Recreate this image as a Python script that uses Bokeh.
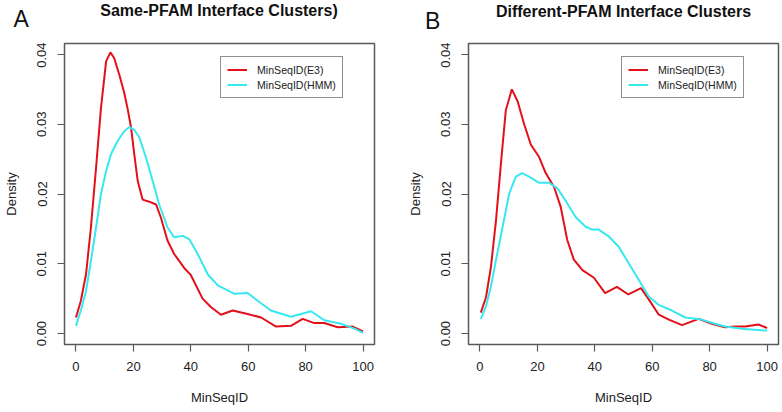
from bokeh.plotting import figure
from bokeh.models import (Range1d, FixedTicker, PrintfTickFormatter, Legend,
                          LegendItem, Label)
from bokeh.layouts import row, column
from bokeh.embed import file_html
from bokeh.resources import INLINE

# ---------------- data ----------------
panel_letters = ["A", "B"]
panel_titles = ["Same-PFAM Interface Clusters)", "Different-PFAM Interface Clusters"]
x_ticks = [0, 20, 40, 60, 80, 100]
y_ticks = [0.00, 0.01, 0.02, 0.03, 0.04]
series_names = ["MinSeqID(E3)", "MinSeqID(HMM)"]

a_e3_x = [0, 1.7, 3.5, 5.2, 7, 8.7, 10.5, 12, 13.3, 15.1, 16.8, 18, 19.2, 20.3,
          21.5, 23.2, 25.5, 27.9, 29.6, 31.9, 34.2, 37.7, 40, 44.1, 47, 50.5,
          54.6, 59.8, 64.5, 69.7, 74.9, 79, 83, 86.5, 91.2, 96.4, 100]
a_e3_y = [0.0023, 0.0047, 0.0085, 0.0152, 0.0238, 0.0323, 0.039, 0.0403, 0.0395,
          0.0371, 0.0345, 0.0322, 0.0295, 0.0257, 0.0219, 0.0192, 0.0189, 0.0185,
          0.0166, 0.0133, 0.0114, 0.0094, 0.0084, 0.005, 0.0038, 0.0027, 0.0033,
          0.0028, 0.0023, 0.001, 0.0011, 0.0021, 0.0015, 0.0015, 0.0009, 0.001,
          0.0003]

a_hmm_x = [0, 1.7, 3.5, 5.2, 7, 8.7, 10.5, 12.2, 14.5, 16.8, 18.6, 20.3, 22.1,
           24.4, 26.7, 29, 31.9, 34.2, 37.2, 39.5, 42.4, 45.9, 49.4, 55.2, 59.8,
           63.3, 67.9, 74.9, 81.9, 86.5, 92.3, 97, 100]
a_hmm_y = [0.0011, 0.0033, 0.0061, 0.0104, 0.0152, 0.02, 0.0233, 0.0257, 0.0276,
           0.029, 0.0296, 0.0292, 0.0281, 0.0252, 0.0219, 0.0185, 0.0152, 0.0138,
           0.014, 0.0135, 0.0114, 0.0085, 0.0069, 0.0057, 0.0058, 0.0047, 0.0033,
           0.0024, 0.0032, 0.0019, 0.0014, 0.0007, 0.0001]

b_e3_x = [0.3, 2.1, 3.8, 5.6, 7.3, 9, 11.1, 13.1, 15.4, 17.7, 20.6, 22.9, 25.8,
          28.1, 30.4, 32.7, 35.7, 39.7, 43.6, 47.7, 51.7, 56.1, 58.8, 62.3, 65.8,
          70.4, 76.2, 80.8, 85.4, 88.9, 92.4, 97, 100]
b_e3_y = [0.003, 0.0052, 0.0095, 0.0163, 0.0244, 0.032, 0.035, 0.0333, 0.03,
          0.0271, 0.0253, 0.023, 0.021, 0.0182, 0.0134, 0.0106, 0.0091, 0.008,
          0.0058, 0.0067, 0.0056, 0.0065, 0.0049, 0.0027, 0.002, 0.0012, 0.0021,
          0.0014, 0.0009, 0.001, 0.001, 0.0013, 0.0008]

b_hmm_x = [0.3, 2.1, 3.8, 5.6, 7.9, 10.2, 12.5, 14.6, 17.1, 20.6, 24.1, 27, 29.9,
           33.3, 36.8, 39.1, 41.4, 44.9, 48.4, 51.9, 55.3, 58.8, 62.3, 66.9, 71.5,
           77.3, 81.9, 85.4, 91.2, 100]
b_hmm_y = [0.0021, 0.0039, 0.0067, 0.0106, 0.0153, 0.0201, 0.0225, 0.023, 0.0225,
           0.0216, 0.0216, 0.0208, 0.019, 0.0167, 0.0153, 0.0149, 0.0149, 0.0139,
           0.0124, 0.01, 0.0077, 0.0053, 0.0041, 0.0033, 0.0023, 0.002, 0.0014,
           0.001, 0.0007, 0.0004]

# ---------------- styling ----------------
FONT = "Liberation Sans"
RED = "#E3101A"
CYAN = "#38E8F0"
BOX = "#5a5a5a"
TXT = "#111111"
HEADER_H = 42

# header strip carrying the panel letters and titles
header = figure(width=782, height=HEADER_H, output_backend="svg",
                toolbar_location=None, x_range=Range1d(0, 782),
                y_range=Range1d(0, HEADER_H), x_axis_type=None, y_axis_type=None,
                min_border=0)
header.outline_line_color = None
header.grid.visible = False
header.background_fill_color = "white"
header.border_fill_color = "white"

# (letter x, letter baseline from header bottom, title centre x, title baseline)
header_spots = [(13, 24, 218.5, 32), (424.5, 22, 623, 31.5)]
for letter, ttl, (lx, ly, tx, ty) in zip(panel_letters, panel_titles, header_spots):
    header.add_layout(Label(x=lx, y=ly, x_units="screen", y_units="screen",
                            text=letter, text_align="left",
                            text_baseline="alphabetic", text_font=FONT,
                            text_font_size="23px", text_color=TXT))
    header.add_layout(Label(x=tx, y=ty, x_units="screen", y_units="screen",
                            text=ttl, text_align="center",
                            text_baseline="alphabetic", text_font=FONT,
                            text_font_size="16px", text_font_style="bold",
                            text_color=TXT))


def panel(e3x, e3y, hx, hy, left, right, top, bottom, legend_xy):
    p = figure(width=391, height=412 - HEADER_H, output_backend="svg",
               toolbar_location=None,
               x_range=Range1d(-4, 104), y_range=Range1d(-0.00157, 0.04157),
               min_border_left=left, min_border_right=right,
               min_border_top=top, min_border_bottom=bottom)
    p.background_fill_color = "white"
    p.border_fill_color = "white"
    p.grid.visible = False
    p.outline_line_color = BOX
    p.outline_line_width = 1.5

    for ax in (p.xaxis[0], p.yaxis[0]):
        ax.axis_line_color = None
        ax.major_tick_line_color = BOX
        ax.major_tick_line_width = 1.2
        ax.major_tick_out = 7
        ax.major_tick_in = 0
        ax.minor_tick_line_color = None
        ax.major_label_text_font = FONT
        ax.major_label_text_font_size = "13px"
        ax.major_label_text_color = "#222222"
        ax.axis_label_text_font = FONT
        ax.axis_label_text_font_size = "13px"
        ax.axis_label_text_font_style = "normal"
        ax.axis_label_text_color = "#222222"

    p.xaxis.ticker = FixedTicker(ticks=x_ticks)
    p.yaxis.ticker = FixedTicker(ticks=y_ticks)
    p.yaxis.formatter = PrintfTickFormatter(format="%.2f")
    p.yaxis.major_label_orientation = "vertical"
    p.xaxis.axis_label = "MinSeqID"
    p.yaxis.axis_label = "Density"
    p.xaxis.major_label_standoff = 10
    p.xaxis.axis_label_standoff = 16
    p.yaxis.major_label_standoff = 11
    p.yaxis.axis_label_standoff = 16

    r1 = p.line(e3x, e3y, line_color=RED, line_width=2)
    r2 = p.line(hx, hy, line_color=CYAN, line_width=2)

    leg = Legend(items=[LegendItem(label=series_names[0], renderers=[r1]),
                        LegendItem(label=series_names[1], renderers=[r2])],
                 location=legend_xy, margin=0, padding=6, spacing=2,
                 glyph_width=20, glyph_height=13, label_height=13,
                 label_standoff=10, label_text_font=FONT,
                 label_text_font_size="10.6px", label_text_color="#222222",
                 border_line_color="#222222", border_line_width=1,
                 background_fill_color="white", background_fill_alpha=1)
    p.add_layout(leg)
    return p


pa = panel(a_e3_x, a_e3_y, a_hmm_x, a_hmm_y, left=63, right=17, top=0,
           bottom=68, legend_xy=(156, 246))
pb = panel(b_e3_x, b_e3_y, b_hmm_x, b_hmm_y, left=77, right=4, top=1,
           bottom=67, legend_xy=(153, 246))

layout = column(header, row(pa, pb))
open("out.html", "w").write(file_html(layout, INLINE))
